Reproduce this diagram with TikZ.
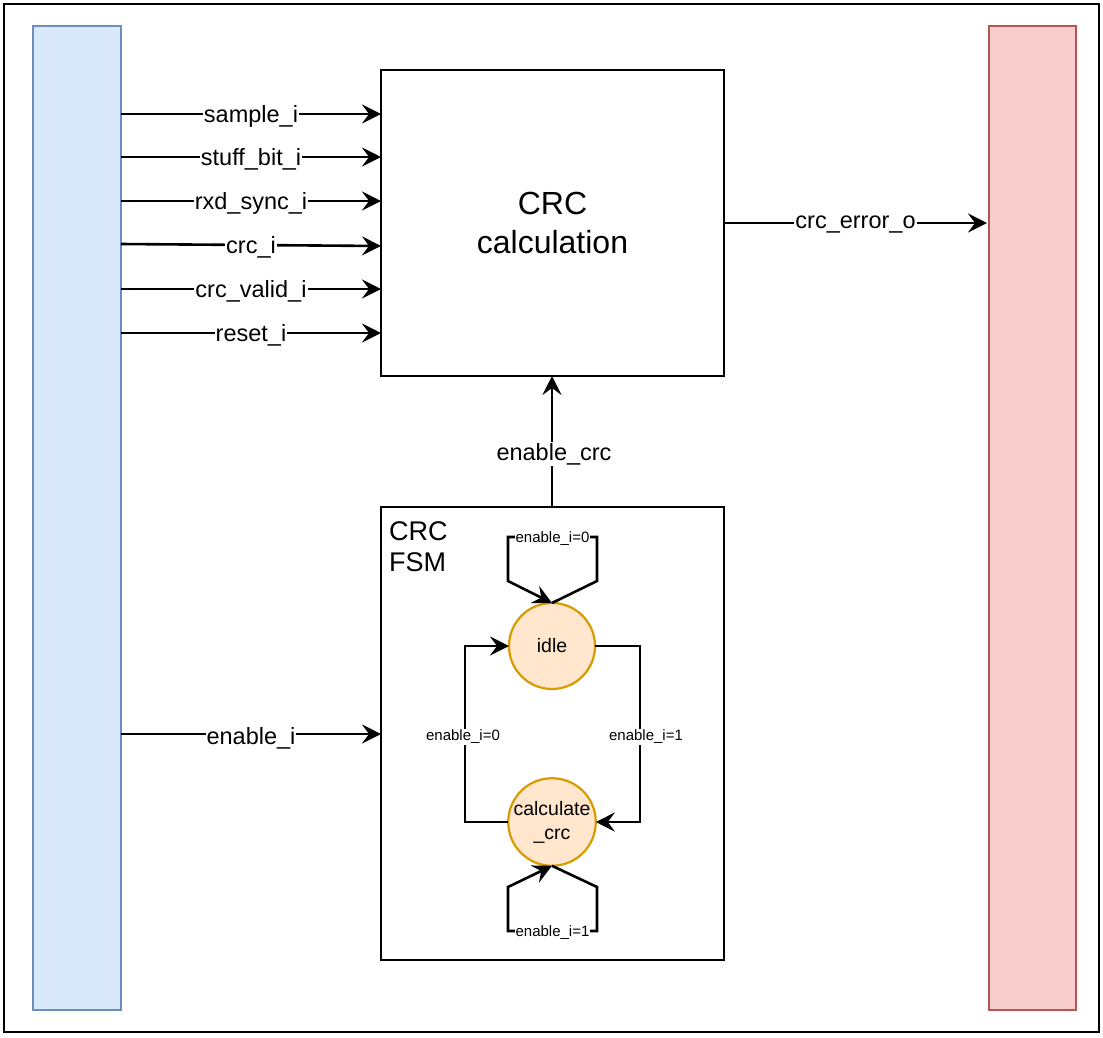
\documentclass[tikz,border=0pt]{standalone}
\usepackage{fontspec}
\setmainfont{Liberation Sans}
\usetikzlibrary{arrows.meta}
\definecolor{blueFill}{HTML}{DAE8FC}
\definecolor{blueLine}{HTML}{6C8EBF}
\definecolor{redFill}{HTML}{F8CECC}
\definecolor{redLine}{HTML}{B85450}
\definecolor{stateFill}{HTML}{FFE6CC}
\definecolor{stateLine}{HTML}{D79B00}
\tikzset{
  port/.style={draw, line width=2pt, inner sep=0pt, outer sep=0pt, minimum width=88pt, minimum height=984pt},
  block/.style={draw=black, line width=2pt, inner sep=0pt, outer sep=0pt, minimum width=343pt},
  state/.style={circle, draw=stateLine, fill=stateFill, line width=2.2pt, minimum size=86pt,
    inner sep=0pt, outer sep=0pt, align=center, font=\fontsize{19.5}{24}\selectfont},
  sig/.style={line width=2.6pt, -{Stealth[length=19pt,width=19pt,inset=7pt]}},
  lbl/.style={fill=white, inner sep=1pt, yshift=-2pt, font=\fontsize{23.5}{28}\selectfont},
  tlbl/.style={fill=white, inner sep=1pt, yshift=-2pt, font=\fontsize{15}{18}\selectfont},
}
\begin{document}
\begin{tikzpicture}[x=1pt,y=-1pt]
  \useasboundingbox (0,0) rectangle (1103,1037);
  % outer frame
  \draw[line width=2.2pt] (4,4) rectangle (1099,1032);

  % side port bars
  \node[port, draw=blueLine, fill=blueFill] (src) at (77,518) {};
  \node[port, draw=redLine, fill=redFill, minimum width=87pt] (sink) at (1032.5,518) {};

  % blocks
  \node[block, minimum height=306pt, align=center, font=\fontsize{32}{39}\selectfont]
    (calc) at (552.5,223) {CRC\\calculation};
  \node[block, minimum height=453pt] (fsm) at (552.5,733.5) {};
  \node[anchor=north west, inner sep=0pt, align=left, font=\fontsize{27}{31}\selectfont]
    (fsmtitle) at (389,521) {CRC\\FSM};

  % FSM states
  \node[state] (idle) at (552,646) {idle};
  \node[state] (crc) at (552,822) {calculate\\\_crc};

  % inputs to the CRC calculation block
  \draw[sig] (src.east |- 0,114) -- node[lbl] {sample\_i} (calc.west |- 0,114);
  \draw[sig] (src.east |- 0,157) -- node[lbl] {stuff\_bit\_i} (calc.west |- 0,157);
  \draw[sig] (src.east |- 0,201) -- node[lbl] {rxd\_sync\_i} (calc.west |- 0,201);
  \draw[sig] (src.east |- 0,244) -- node[lbl] {crc\_i} (calc.west |- 0,246);
  \draw[sig] (src.east |- 0,289) -- node[lbl] {crc\_valid\_i} (calc.west |- 0,289);
  \draw[sig] (src.east |- 0,333) -- node[lbl] {reset\_i} (calc.west |- 0,333);

  % output
  \draw[sig] (calc.east |- 0,223) -- node[lbl] {crc\_error\_o} ([xshift=-2pt]sink.west |- 0,223);

  % FSM enable into calculation
  \draw[sig] (fsm.north -| 552,0) -- node[lbl, pos=0.42, xshift=2pt] {enable\_crc} (calc.south -| 552,0);

  % enable input to the FSM
  \draw[sig] (src.east |- 0,734) -- node[lbl, yshift=-2pt] {enable\_i} (fsm.west |- 0,734);

  % state transitions
  \draw[sig] (idle.north) -- (597,581) -- (597,537)
    -- node[tlbl] {enable\_i=0} (508,537) -- (508,581) -- (idle.north);
  \draw[sig] (crc.south) -- (597,887) -- (597,931)
    -- node[tlbl] {enable\_i=1} (508,931) -- (508,887) -- (crc.south);
  \draw[sig] (idle.east) -- (640,646)
    -- node[tlbl, xshift=6pt, yshift=-1pt] {enable\_i=1} (640,822) -- (crc.east);
  \draw[sig] (crc.west) -- (465,822)
    -- node[tlbl, xshift=-2pt, yshift=-1pt] {enable\_i=0} (465,646) -- (idle.west);
\end{tikzpicture}
\end{document}
